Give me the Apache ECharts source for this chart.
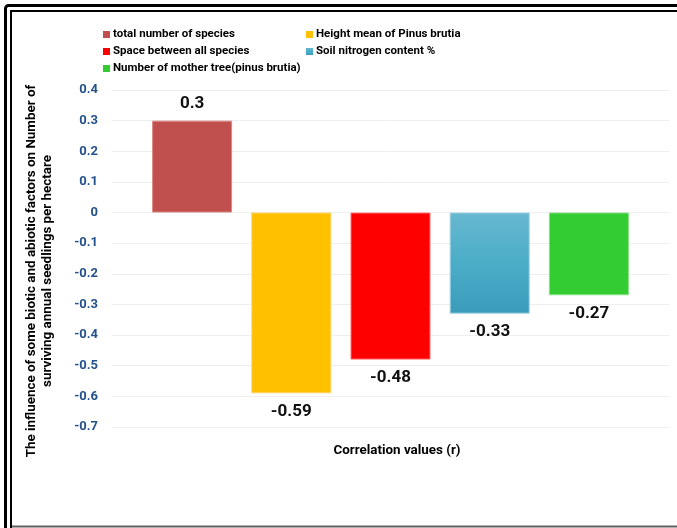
<!DOCTYPE html>
<html>
<head>
<meta charset="utf-8">
<script src="https://cdn.jsdelivr.net/npm/echarts@6/dist/echarts.min.js"></script>
<style>
  html, body { margin: 0; padding: 0; background: #fff; }
  #chart { width: 677px; height: 528px; }
</style>
</head>
<body>
<div id="chart"></div>
<script>
// Correlation of each factor with the number of surviving annual seedlings
const factorNames = [
  'total number of species',
  'Height mean of Pinus brutia',
  'Space between all species',
  'Soil nitrogen content %',
  'Number of mother tree(pinus brutia)'
];
const correlationValues = [0.3, -0.59, -0.48, -0.33, -0.27];
const barColors = ['#C0504D', '#FFC000', '#FF0000', null, '#33CC33'];
const yTicks = { min: -0.7, max: 0.4, step: 0.1 };
const yAxisTitle = ['The influence of some biotic and abiotic factors on Number of',
                    'surviving annual seedlings per hectare'];
const xAxisTitle = 'Correlation values (r)';

const FONT = 'Roboto, "Open Sans", sans-serif';

// soil nitrogen bar uses a vertical teal gradient
const tealGradient = new echarts.graphic.LinearGradient(0, 0, 0, 1, [
  { offset: 0, color: '#68B7D0' },
  { offset: 0.5, color: '#4BADC7' },
  { offset: 1, color: '#3A9CBA' }
]);
const borderColors = ['#D98886', '#FFD566', '#FF7070', '#9ED2E3', '#85E085'];

const series = factorNames.map((name, i) => {
  const positive = correlationValues[i] >= 0;
  return {
    name: name,
    type: 'bar',
    barWidth: 80,
    barGap: '24%',
    itemStyle: {
      color: barColors[i] || tealGradient,
      borderColor: borderColors[i],
      borderWidth: 1
    },
    label: {
      show: true,
      position: positive ? 'top' : 'bottom',
      distance: positive ? 8 : 10,
      color: '#111',
      fontFamily: FONT,
      fontWeight: 'bold',
      fontSize: 17,
      formatter: (p) => String(p.value)
    },
    data: [correlationValues[i]]
  };
});

const legendCommon = {
  orient: 'vertical', top: 23,
  itemWidth: 7, itemHeight: 7, itemGap: 4,
  icon: 'rect',
  itemStyle: { borderWidth: 0 },
  textStyle: { fontFamily: FONT, fontWeight: 'bold', fontSize: 11.5, color: '#000', lineHeight: 13,
               padding: [0, 0, 0, -2] }
};

const chart = echarts.init(document.getElementById('chart'), null, { renderer: 'canvas' });
chart.setOption({
  animation: false,
  backgroundColor: '#fff',
  grid: { left: 112, right: 8, top: 90, bottom: 101 },
  legend: [
    Object.assign({ data: [factorNames[0], factorNames[2], factorNames[4]], left: 98 }, legendCommon),
    Object.assign({ data: [factorNames[1], factorNames[3]], left: 301 }, legendCommon)
  ],
  xAxis: {
    type: 'category',
    data: [''],
    axisLine: { show: false },
    axisTick: { show: false },
    axisLabel: { show: false },
    splitLine: { show: false }
  },
  yAxis: {
    type: 'value',
    min: yTicks.min,
    max: yTicks.max,
    interval: yTicks.step,
    axisLine: { show: false },
    axisTick: { show: false },
    axisLabel: {
      margin: 14,
      color: '#24528C',
      fontFamily: FONT,
      fontWeight: 'bold',
      fontSize: 13,
      formatter: (v) => String(Math.round(v * 10) / 10)
    },
    splitLine: { lineStyle: { color: '#EEEEEE', width: 1 } }
  },
  series: series,
  graphic: [
    // double frame on the left and top, grey rule along the bottom
    { type: 'rect', shape: { x: 5.5, y: 5.5, width: 700, height: 540, r: 3 },
      style: { fill: null, stroke: '#000', lineWidth: 3 }, silent: true },
    { type: 'rect', shape: { x: 11, y: 11, width: 700, height: 540 },
      style: { fill: null, stroke: '#000', lineWidth: 2 }, silent: true },
    { type: 'line', shape: { x1: 12, y1: 526.5, x2: 677, y2: 526.5 },
      style: { stroke: '#606060', lineWidth: 2 }, silent: true },
    {
      type: 'text', x: 40, y: 271, rotation: Math.PI / 2,
      style: {
        text: yAxisTitle.join('\n'),
        align: 'center', verticalAlign: 'middle',
        fontFamily: FONT, fontWeight: 'bold', fontSize: 13.4, lineHeight: 16,
        fill: '#000'
      }
    },
    {
      type: 'text', x: 397, y: 451,
      style: {
        text: xAxisTitle,
        align: 'center', verticalAlign: 'middle',
        fontFamily: FONT, fontWeight: 'bold', fontSize: 13.4,
        fill: '#000'
      }
    }
  ]
});
</script>
</body>
</html>
